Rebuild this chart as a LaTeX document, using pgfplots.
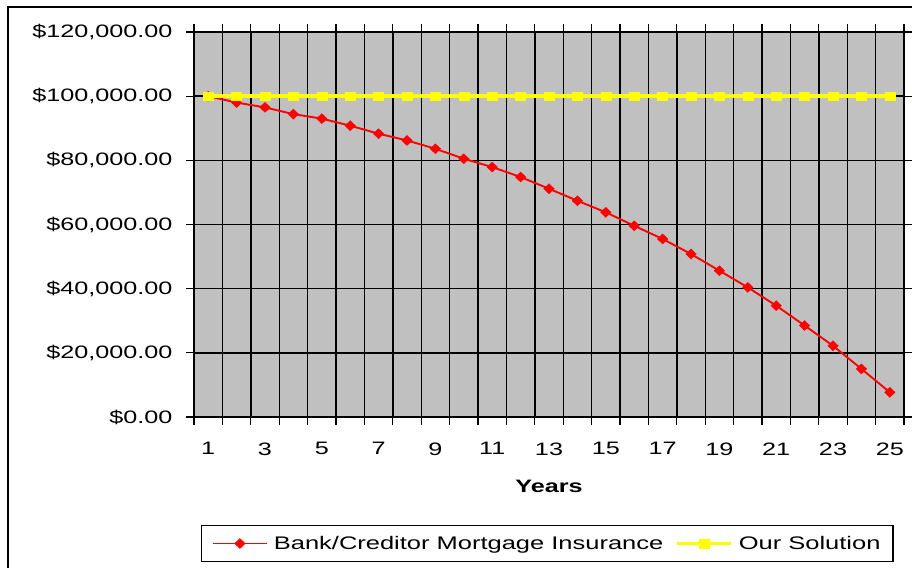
\documentclass[border=0pt]{standalone}
\usepackage{pgfplots}
\pgfplotsset{compat=1.18}
\usepackage{fontspec}
\setmainfont{Liberation Sans}[FakeStretch=1.4]
\definecolor{plotgray}{RGB}{192,192,192}
\definecolor{myyellow}{RGB}{255,255,0}
\definecolor{myred}{RGB}{255,0,0}
\newcommand\cf{\fontsize{18}{21}\selectfont}
\newcommand\lf{\fontsize{18.2}{21}\selectfont}
\begin{document}
\begin{tikzpicture}[x=1pt,y=1pt]
\path[use as bounding box] (0,0) rectangle (912,567);
\clip (0,0) rectangle (912,567);
\fill[white] (0,0) rectangle (912,567);
\draw[line width=1.3pt] (8,-20) -- (8,560) -- (930,560);
\begin{axis}[
  at={(194pt,150pt)}, anchor=south west,
  scale only axis, width=710pt, height=385pt,
  xmin=0.5, xmax=25.5, ymin=0, ymax=120000,
  axis background/.style={fill=plotgray},
  axis line style={black, line width=1.3pt},
  tick align=outside,
  major tick length=8pt,
  tick style={black, line width=1.3pt},
  xtick={0.5,1.5,...,25.5}, xticklabels={},
  extra x ticks={1,3,5,7,9,11,13,15,17,19,21,23,25},
  extra x tick labels={1,3,5,7,9,11,13,15,17,19,21,23,25},
  extra x tick style={grid=none, major tick length=0pt, xticklabel style={yshift=-22pt}},
  ytick={0,20000,40000,60000,80000,100000,120000},
  yticklabels={{\$0.00},{\$20,000.00},{\$40,000.00},{\$60,000.00},{\$80,000.00},{\$100,000.00},{\$120,000.00}},
  yticklabel style={xshift=-10pt},
  scaled ticks=false,
  xmajorgrids, ymajorgrids,
  grid style={black, line width=1.4pt},
  ticklabel style={font=\cf},
  xlabel={\bfseries Years},
  xlabel style={font=\cf, at={(axis description cs:0.5,-0.1805)}, anchor=center},
  legend columns=2,
  legend style={at={(axis description cs:0.4975,-0.3286)}, anchor=center, draw=black, line width=1.2pt, font=\lf, inner xsep=10.5pt, inner ysep=9pt, /tikz/every even column/.append style={column sep=10pt}},
  legend image code/.code={\draw[mark repeat=2,mark phase=2,#1] plot coordinates {(0pt,0pt) (27pt,0pt) (54pt,0pt)}; \path (58pt,0pt);},
]
\addplot[color=myred, draw=myred, line width=1.9pt, mark=diamond*, mark size=5pt, mark options={xscale=1.4, line width=0.4pt, solid, draw=myred, fill=myred}] coordinates {
(1,100000) (2,98000) (3,96500) (4,94400) (5,93000) (6,90800) (7,88300) (8,86200) (9,83600) (10,80500)
(11,77900) (12,74800) (13,71150) (14,67400) (15,63800) (16,59600) (17,55500) (18,50800) (19,45600) (20,40400)
(21,34700) (22,28500) (23,22200) (24,15000) (25,7700)};
\addlegendentry{Bank/Creditor Mortgage Insurance}
\addplot[color=myyellow, draw=myyellow, line width=3.5pt, mark=square*, mark size=4.3pt, mark options={xscale=1.15, line width=0.4pt, solid, draw=myyellow, fill=myyellow}] coordinates {
(1,100000) (2,100000) (3,100000) (4,100000) (5,100000) (6,100000) (7,100000) (8,100000) (9,100000) (10,100000)
(11,100000) (12,100000) (13,100000) (14,100000) (15,100000) (16,100000) (17,100000) (18,100000) (19,100000) (20,100000)
(21,100000) (22,100000) (23,100000) (24,100000) (25,100000)};
\addlegendentry{Our Solution}
\end{axis}
\end{tikzpicture}
\end{document}
